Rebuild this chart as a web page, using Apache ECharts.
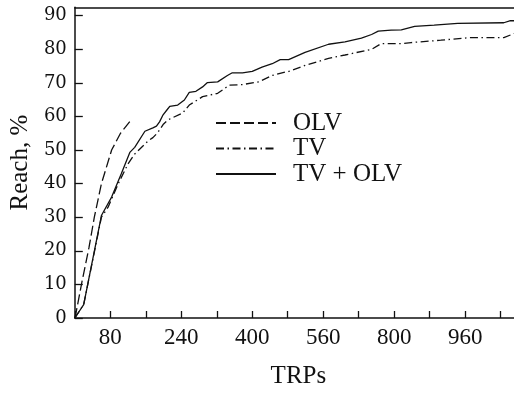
<!DOCTYPE html>
<html><head><meta charset="utf-8">
<script src="https://cdn.jsdelivr.net/npm/echarts@6/dist/echarts.min.js"></script>
<style>html,body{margin:0;padding:0;background:#fff}#c{width:514px;height:394px}</style>
</head><body><div id="c"></div>
<script>
// Data (x in axis units, 80 per tick)
const olvX = [0, 2, 16, 32, 44, 60, 83, 103, 124];
const olvY = [0, 1, 10.7, 21, 30, 40, 50, 55, 58.5];
const tvX = [0, 4.5, 20, 60, 75, 98, 120, 135, 165, 176, 187, 199, 210, 214, 243, 258, 288, 322, 348, 378, 415, 445, 467, 482, 519, 572, 609, 669, 691, 736, 758, 825, 892, 967, 991];
const tvY = [0, 0.5, 4, 30, 33, 40, 45.9, 48.8, 52.7, 53.7, 55.2, 57.6, 59, 59.5, 61, 63.4, 65.9, 66.9, 69.3, 69.5, 70.3, 72.2, 73, 73.4, 75.2, 77.3, 78.3, 80, 81.7, 81.7, 82, 82.7, 83.5, 83.5, 84.7];
const bothX = [0, 4.5, 20, 60, 83, 105, 124, 135, 158, 176, 184, 191, 199, 208, 214, 232, 247, 258, 273, 288, 299, 322, 344, 355, 378, 400, 422, 445, 463, 482, 519, 572, 609, 646, 669, 684, 713, 736, 766, 810, 863, 967, 982, 991];
const bothY = [0, 0.5, 4, 30.5, 36, 43, 49.3, 50.8, 55.6, 56.6, 57.1, 58.4, 60.5, 62, 63, 63.4, 64.9, 67.2, 67.5, 68.8, 70.1, 70.3, 72.2, 73, 73, 73.4, 74.7, 75.7, 76.9, 76.9, 79.1, 81.5, 82.2, 83.3, 84.4, 85.4, 85.7, 85.8, 86.8, 87.2, 87.7, 87.9, 88.5, 88.5];
// Tick labels as printed on the x axis
const xTickValues = [80, 240, 400, 560, 720, 880];
const xTickLabels = ["80", "240", "400", "560", "800", "960"];
const seriesNames = ["OLV", "TV", "TV + OLV"];

const zip = (xs, ys) => xs.map((x, i) => [x, ys[i]]);
const labelMap = {};
xTickValues.forEach((v, i) => labelMap[v] = xTickLabels[i]);

const serif = "Liberation Serif";
const chart = echarts.init(document.getElementById('c'), null, {renderer: 'canvas'});
const lineBase = {type: 'line', symbol: 'none', smooth: false, animation: false, z: 3,
  color: '#111', itemStyle: {color: '#111'}};
chart.setOption({
  animation: false,
  backgroundColor: '#fff',
  color: ['#111', '#111', '#111'],
  grid: {left: 71.3, right: 0, top: 7.3, bottom: 70.7, containLabel: false},
  legend: {
    orient: 'vertical', left: 215, top: 110.5, padding: 0,
    itemWidth: 60, itemHeight: 14, itemGap: 0.5,
    itemStyle: {opacity: 0},
    textStyle: {fontFamily: serif, fontSize: 25, color: '#111', lineHeight: 25, padding: [0, 0, 0, 12]},
    data: seriesNames
  },
  xAxis: [{
    type: 'value', min: 0, max: 990, interval: 80,
    name: 'TRPs', nameLocation: 'middle', nameGap: 46,
    nameTextStyle: {fontFamily: serif, fontSize: 25, color: '#111', padding: [0, 0, 0, 8]},
    axisLine: {lineStyle: {color: '#111', width: 1.5}},
    axisTick: {inside: true, length: 7, lineStyle: {color: '#111', width: 1.3}},
    axisLabel: {fontFamily: serif, fontSize: 23, color: '#111', margin: 8,
      formatter: v => labelMap[v] || '', showMaxLabel: false},
    splitLine: {show: false}
  }, {
    type: 'value', position: 'top', min: 0, max: 990,
    axisLine: {show: true, lineStyle: {color: '#111', width: 1.5}},
    axisTick: {show: false}, axisLabel: {show: false}, splitLine: {show: false}
  }],
  yAxis: {
    type: 'value', min: 0, max: 92.5, interval: 10,
    name: 'Reach, %', nameLocation: 'middle', nameGap: 33, nameRotate: 90,
    nameTextStyle: {fontFamily: serif, fontSize: 25, color: '#111'},
    axisLine: {show: true, lineStyle: {color: '#111', width: 1.5}},
    axisTick: {inside: true, length: 8, lineStyle: {color: '#111', width: 1.3}},
    axisLabel: {fontFamily: 'DejaVu Serif', fontSize: 18, color: '#111', margin: 8, showMaxLabel: false},
    splitLine: {show: false}
  },
  series: [
    Object.assign({}, lineBase, {name: seriesNames[0], data: zip(olvX, olvY),
      lineStyle: {color: '#111', width: 1.3, type: [10, 4]}}),
    Object.assign({}, lineBase, {name: seriesNames[1], data: zip(tvX, tvY),
      lineStyle: {color: '#111', width: 1.3, type: [8, 3.5, 1.5, 3.5]}}),
    Object.assign({}, lineBase, {name: seriesNames[2], data: zip(bothX, bothY),
      lineStyle: {color: '#111', width: 1.3, type: 'solid'}})
  ]
});
</script></body></html>
